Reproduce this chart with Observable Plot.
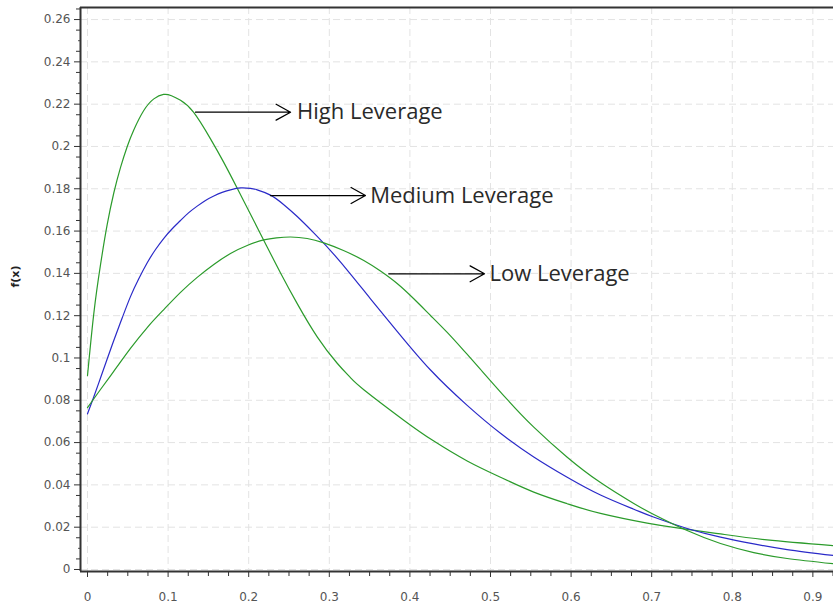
<!DOCTYPE html>
<html><head><meta charset="utf-8">
<script src="https://cdn.jsdelivr.net/npm/d3@7"></script>
<script src="https://cdn.jsdelivr.net/npm/@observablehq/plot@0.6"></script>
<style>body{margin:0;background:#fff;} #chart svg{display:block;background:#fff;}</style>
</head><body><div id="chart"></div>
<script>
// ---- data ----
const highX = [0, 0.0078, 0.0161, 0.0244, 0.0326, 0.0409, 0.0493, 0.0574, 0.0698, 0.0823, 0.0943, 0.1042, 0.1154, 0.1315, 0.1526, 0.1687, 0.1861, 0.2035, 0.2221, 0.2395, 0.2602, 0.2850, 0.3098, 0.3260, 0.3428, 0.3924, 0.4297, 0.4711, 0.5124, 0.5537, 0.5952, 0.6365, 0.6944, 0.7357, 0.7854, 0.8433, 0.9256];
const highY = [0.0917, 0.1210, 0.1440, 0.1630, 0.1780, 0.1900, 0.2000, 0.2078, 0.2170, 0.2225, 0.2246, 0.2240, 0.2218, 0.2162, 0.2036, 0.1927, 0.1800, 0.1670, 0.1531, 0.1402, 0.1257, 0.1100, 0.0975, 0.0908, 0.0850, 0.0706, 0.0607, 0.0513, 0.0436, 0.0366, 0.0311, 0.0265, 0.0219, 0.0194, 0.0168, 0.0140, 0.0113];

const mediumX = [0, 0.0074, 0.0161, 0.0244, 0.0326, 0.0431, 0.0533, 0.0633, 0.0741, 0.0844, 0.0947, 0.1051, 0.1154, 0.1253, 0.1361, 0.1464, 0.1567, 0.1671, 0.1774, 0.1898, 0.2022, 0.2105, 0.2270, 0.2432, 0.2602, 0.2804, 0.3015, 0.3263, 0.3511, 0.3842, 0.4256, 0.4711, 0.5124, 0.5537, 0.5952, 0.6365, 0.6778, 0.7022, 0.7440, 0.7854, 0.8267, 0.8681, 0.9256];
const mediumY = [0.0736, 0.0812, 0.0905, 0.0995, 0.1083, 0.1190, 0.1290, 0.1372, 0.1450, 0.1513, 0.1566, 0.1611, 0.1650, 0.1686, 0.1718, 0.1745, 0.1766, 0.1783, 0.1795, 0.1804, 0.1802, 0.1795, 0.1770, 0.1726, 0.1669, 0.1593, 0.1508, 0.1397, 0.1280, 0.1126, 0.0943, 0.0776, 0.0644, 0.0532, 0.0436, 0.0352, 0.0285, 0.0248, 0.0194, 0.0153, 0.0121, 0.0094, 0.0066];

const lowX = [0, 0.0161, 0.0347, 0.0533, 0.0741, 0.0947, 0.1154, 0.1361, 0.1567, 0.1774, 0.1981, 0.2187, 0.2345, 0.2519, 0.2726, 0.2932, 0.3176, 0.3428, 0.3635, 0.3842, 0.4045, 0.4256, 0.4463, 0.4669, 0.4876, 0.5207, 0.5537, 0.5952, 0.6365, 0.6778, 0.7026, 0.7440, 0.7854, 0.8267, 0.8681, 0.9256];
const lowY = [0.0765, 0.0851, 0.0948, 0.1045, 0.1144, 0.1229, 0.1310, 0.1381, 0.1442, 0.1494, 0.1532, 0.1558, 0.1568, 0.1572, 0.1565, 0.1544, 0.1508, 0.1461, 0.1411, 0.1352, 0.1281, 0.1201, 0.1121, 0.1035, 0.0946, 0.0804, 0.0673, 0.0531, 0.0411, 0.0312, 0.0260, 0.0184, 0.0123, 0.0080, 0.0052, 0.0027];

const seriesNames = ["High Leverage", "Medium Leverage", "Low Leverage"];
const annotStartX = [0.134, 0.227, 0.3738];
const annotEndX = [0.2519, 0.3449, 0.4926];
const annotY = [0.2162, 0.1768, 0.1398];
const annotTextX = [0.2600, 0.3507, 0.4988];

const xTicks = [0, 0.1, 0.2, 0.3, 0.4, 0.5, 0.6, 0.7, 0.8, 0.9];
const yTicks = [0, 0.02, 0.04, 0.06, 0.08, 0.1, 0.12, 0.14, 0.16, 0.18, 0.2, 0.22, 0.24, 0.26];
const yLabel = "f(x)";

// ---- build ----
const seriesX = [highX, mediumX, lowX];
const seriesY = [highY, mediumY, lowY];
const lineData = seriesNames.flatMap((name, s) => seriesX[s].map((x, i) => ({series: name, x, y: seriesY[s][i]})));
const seriesColors = ["#2b9b2b", "#2a2ac8", "#2b9b2b"];

const xDomain = [-0.0087, 0.9256];
const yDomain = [-0.00095, 0.2657];

const yMinor = d3.range(1, 54).filter(k => k % 2 === 1).map(k => +(k * 0.005).toFixed(4));
const yDots = d3.range(1, 54).filter(k => k % 4 === 2).map(k => +(k * 0.005).toFixed(4));
const xMinor = d3.range(1, 38).filter(k => k % 4 !== 0).map(k => +(k * 0.025).toFixed(4));
const fmt = d => String(+(+d).toFixed(2));
const idx = d3.range(seriesNames.length);
const gridStyle = {stroke: "#e3e3e3", strokeOpacity: 1, strokeWidth: 1, strokeDasharray: "7,4"};

const chart = Plot.plot({
  width: 833, height: 604,
  marginLeft: 80, marginRight: 0, marginTop: 7, marginBottom: 33,
  x: {domain: xDomain, label: null},
  y: {domain: yDomain, label: null},
  color: {domain: seriesNames, range: seriesColors},
  marks: [
    Plot.gridY(yTicks, gridStyle),
    Plot.gridX(xTicks, gridStyle),
    Plot.line(lineData, {x: "x", y: "y", z: "series", stroke: d => d.series, strokeWidth: 1.2, curve: "natural"}),
    Plot.arrow(idx, {x1: i => annotStartX[i], y1: i => annotY[i], x2: i => annotEndX[i], y2: i => annotY[i], stroke: "#000", strokeWidth: 1.3, headLength: 19, headAngle: 58}),
    Plot.text(idx, {x: i => annotTextX[i], y: i => annotY[i], text: i => seriesNames[i], textAnchor: "start", lineAnchor: "middle", fontSize: 22, fontFamily: "Open Sans", fill: "#2a2a2a"}),
    // y axis
    Plot.axisY(yTicks, {tickSize: 6, tickFormat: () => "", stroke: "#333", label: null}),
    Plot.axisY(yMinor, {tickSize: 4, tickFormat: () => "", stroke: "#333", label: null}),
    Plot.axisY(yDots, {tickSize: 2, tickFormat: () => "", stroke: "#555", label: null}),
    Plot.axisY(yTicks, {tickSize: 0, tickPadding: 10, tickFormat: fmt, fontSize: 12, fontFamily: "DejaVu Sans", fill: "#555", label: null}),
    // x axis
    Plot.axisX(xTicks, {tickSize: 6, tickFormat: () => "", stroke: "#333", label: null}),
    Plot.axisX(xMinor, {tickSize: 5, tickFormat: () => "", stroke: "#333", label: null}),
    Plot.axisX(xTicks, {tickSize: 0, tickPadding: 21, tickFormat: fmt, fontSize: 12, fontFamily: "DejaVu Sans", fill: "#555", label: null}),
    // frame lines
    Plot.ruleY([yDomain[0]], {stroke: "#333", strokeWidth: 2}),
    Plot.ruleY([yDomain[1]], {stroke: "#333", strokeWidth: 2}),
    Plot.ruleX([xDomain[0]], {stroke: "#333", strokeWidth: 2}),
    Plot.text([yLabel], {frameAnchor: "left", dx: -65, dy: -2, rotate: -90, fontSize: 11, fontWeight: "bold", fontFamily: "DejaVu Sans", fill: "#222"})
  ]
});
document.getElementById("chart").appendChild(chart);
</script>
</body></html>
